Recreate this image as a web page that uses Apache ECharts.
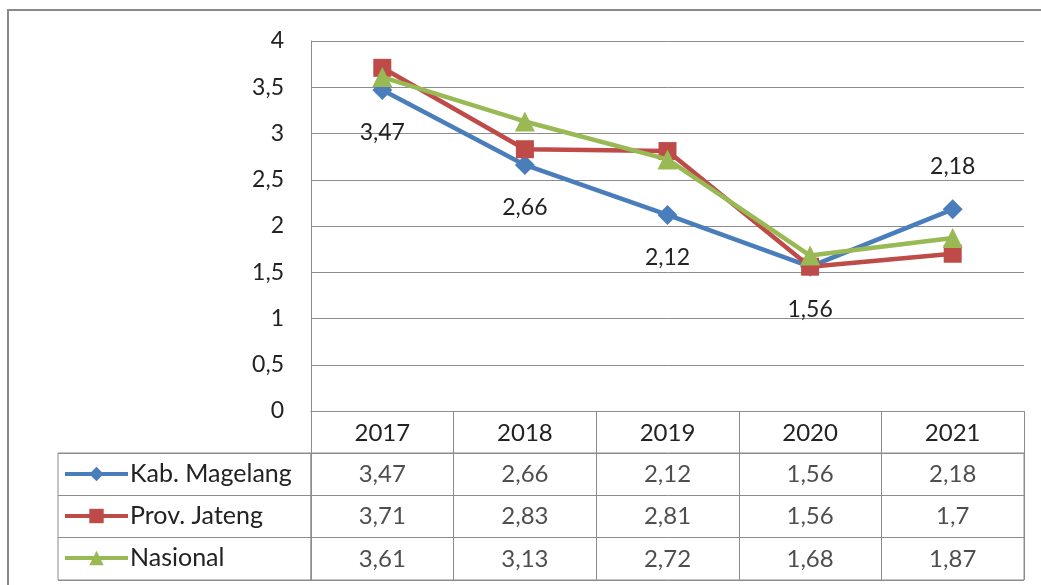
<!DOCTYPE html>
<html>
<head>
<meta charset="utf-8">
<script src="https://cdn.jsdelivr.net/npm/echarts@6/dist/echarts.min.js"></script>
<style>
  html, body { margin: 0; padding: 0; background: #fff; }
  #main { width: 1041px; height: 585px; }
</style>
</head>
<body>
<div id="main"></div>
<script>
  // data
  var years = ['2017', '2018', '2019', '2020', '2021'];
  var seriesNames = ['Kab. Magelang', 'Prov. Jateng', 'Nasional'];
  var kabMagelang = [3.47, 2.66, 2.12, 1.56, 2.18];
  var provJateng = [3.71, 2.83, 2.81, 1.56, 1.7];
  var nasional = [3.61, 3.13, 2.72, 1.68, 1.87];
  var yMin = 0, yMax = 4, yStep = 0.5;

  var allValues = [kabMagelang, provJateng, nasional];
  var colors = ['#4A7EBB', '#BE4B48', '#98B954'];
  var symbols = ['diamond', 'rect', 'triangle'];
  var symbolSizes = [20, 18, 20];
  var gridColor = '#8c8c8c';
  var textColor = '#222222';
  var font = 'Lato';

  function fmt(v) {
    return String(v).replace('.', ',');
  }

  var myChart = echarts.init(document.getElementById('main'));

  var series = [];
  // lines
  allValues.forEach(function (vals, k) {
    series.push({
      name: seriesNames[k],
      type: 'line',
      xAxisIndex: 0,
      yAxisIndex: 0,
      symbol: symbols[k],
      symbolSize: symbolSizes[k],
      showAllSymbol: true,
      color: colors[k],
      lineStyle: { width: 4.5, color: colors[k] },
      itemStyle: { color: colors[k] },
      z: 3 + k,
      // only Kab. Magelang has data labels, last one above the point
      data: vals.map(function (v, i) {
        if (k === 0 && i === vals.length - 1) {
          return { value: v, label: { position: 'top' } };
        }
        return v;
      }),
      label: {
        show: k === 0,
        position: 'bottom',
        distance: 21,
        color: textColor,
        fontSize: 23,
        fontFamily: font,
        formatter: function (p) { return fmt(p.value); }
      }
    });
  });
  // table cells
  allValues.forEach(function (vals, k) {
    series.push({
      name: 'tabel-' + k,
      type: 'scatter',
      xAxisIndex: 1,
      yAxisIndex: 1,
      symbolSize: 1,
      silent: true,
      itemStyle: { color: 'rgba(0,0,0,0)' },
      data: vals.map(function (v, i) { return [i, k, v]; }),
      encode: { x: 0, y: 1 },
      label: {
        show: true,
        position: 'inside',
        color: textColor,
        fontSize: 24,
        fontFamily: font,
        formatter: function (p) { return fmt(p.value[2]); }
      }
    });
  });

  myChart.setOption({
    animation: false,
    backgroundColor: '#fff',
    graphic: [{
      type: 'rect',
      silent: true,
      shape: { x: 8, y: 10, width: 1200, height: 700 },
      style: { fill: 'none', stroke: '#8a8a8a', lineWidth: 2 }
    }],
    legend: {
      data: seriesNames,
      orient: 'vertical',
      left: 58,
      top: 456,
      itemWidth: 63,
      itemHeight: 18,
      itemGap: 16,
      lineStyle: { width: 4 },
      textStyle: { fontSize: 25, fontFamily: font, color: textColor, lineHeight: 26, padding: [0, 0, 0, -3] }
    },
    grid: [
      { left: 311, right: 17, top: 41, height: 370 },           // plot
      { left: 311, right: 17, top: 453, height: 127, show: true, borderColor: gridColor, borderWidth: 1 }, // table values
      { left: 58, width: 253, top: 453, height: 127, show: true, borderColor: gridColor, borderWidth: 1 }   // table names
    ],
    xAxis: [
      {
        gridIndex: 0,
        type: 'category',
        data: years,
        boundaryGap: true,
        axisLine: { lineStyle: { color: gridColor, width: 1 } },
        axisTick: { show: true, length: 42, interval: 0, lineStyle: { color: gridColor } },
        axisLabel: { margin: 10, fontSize: 24, fontFamily: font, color: textColor },
        splitLine: { show: false }
      },
      {
        gridIndex: 1,
        type: 'category',
        data: years,
        boundaryGap: true,
        axisLine: { show: false },
        axisTick: { show: false },
        axisLabel: { show: false },
        splitLine: { show: true, interval: 0, lineStyle: { color: gridColor } }
      },
      {
        gridIndex: 2,
        type: 'value',
        show: false
      }
    ],
    yAxis: [
      {
        gridIndex: 0,
        type: 'value',
        min: yMin,
        max: yMax,
        interval: yStep,
        axisLine: { show: true, lineStyle: { color: gridColor } },
        axisTick: { show: false },
        axisLabel: {
          margin: 27,
          fontSize: 23,
          fontFamily: font,
          color: textColor,
          formatter: function (v) { return fmt(v); }
        },
        splitLine: { show: true, lineStyle: { color: gridColor } }
      },
      {
        gridIndex: 1,
        type: 'category',
        data: seriesNames,
        inverse: true,
        axisLine: { show: false },
        axisTick: { show: false },
        axisLabel: { show: false },
        splitLine: { show: true, interval: 0, lineStyle: { color: gridColor } }
      },
      {
        gridIndex: 2,
        type: 'category',
        data: seriesNames,
        inverse: true,
        axisLine: { show: false },
        axisTick: { show: false },
        axisLabel: { show: false },
        splitLine: { show: true, interval: 0, lineStyle: { color: gridColor } }
      }
    ],
    series: series
  });
</script>
</body>
</html>
